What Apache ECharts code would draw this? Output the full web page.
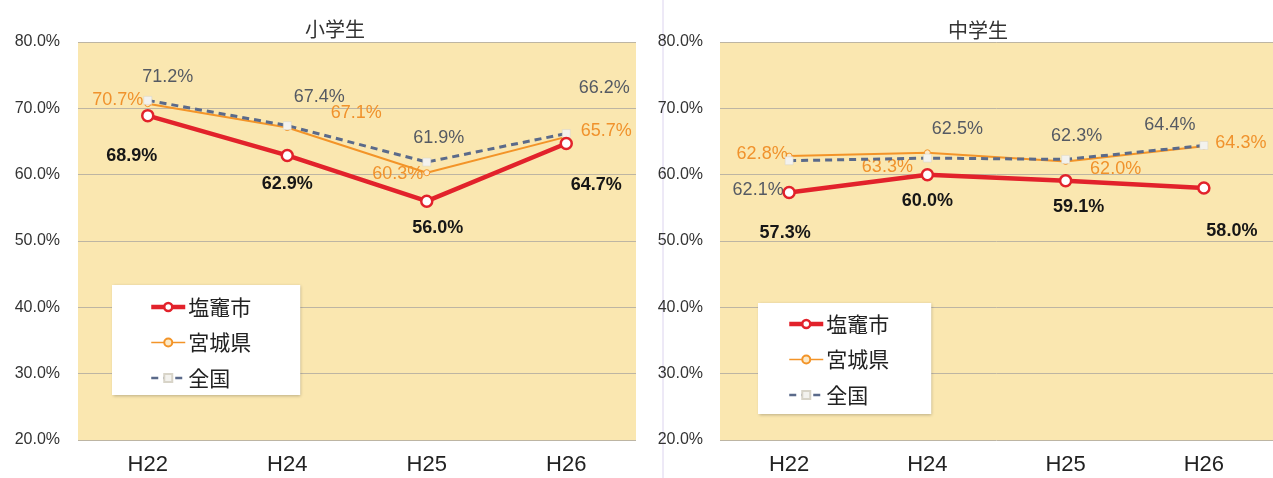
<!DOCTYPE html>
<html>
<head>
<meta charset="utf-8">
<script src="https://cdn.jsdelivr.net/npm/echarts@6/dist/echarts.min.js"></script>
<style>html,body{margin:0;padding:0;background:#fff;}#c{width:1273px;height:478px;}</style>
</head>
<body>
<div id="c"></div>
<script>
// ---- data ----
const categories = ['H22', 'H24', 'H25', 'H26'];
const seriesNames = ['塩竈市', '宮城県', '全国'];
const chartTitles = ['小学生', '中学生'];
const yTicks = [20, 30, 40, 50, 60, 70, 80];
// 小学生
const elemShiogama = [68.9, 62.9, 56.0, 64.7];
const elemMiyagi   = [70.7, 67.1, 60.3, 65.7];
const elemNational = [71.2, 67.4, 61.9, 66.2];
// 中学生
const juniorShiogama = [57.3, 60.0, 59.1, 58.0];
const juniorMiyagi   = [62.8, 63.3, 62.0, 64.3];
const juniorNational = [62.1, 62.5, 62.3, 64.4];

// ---- label placement (style, pixels relative to point) ----
const offElemShiogama = [[-16, 40], [0, 29], [11, 27], [30, 42]];
const offElemMiyagi   = [[-30, -4], [69, -15], [-29, 1], [40, -6]];
const offElemNational = [[20, -23], [32, -29], [12, -24], [38, -46]];
const offJunShiogama  = [[-4, 40], [0, 26], [13, 26], [28, 43]];
const offJunMiyagi    = [[-27, -2], [-40, 14], [50, 8], [37, -3]];
const offJunNational  = [[-31, 29], [30, -29], [11, -23], [-34, -20]];

const FONT = "'Liberation Sans', Arial, 'Noto Sans CJK JP', sans-serif";
const CJK = "'Noto Sans CJK JP', sans-serif";

const styles = {
  '塩竈市': {
    lineStyle: { color: '#e2222b', width: 4.5 },
    itemStyle: { color: '#ffffff', borderColor: '#e2222b', borderWidth: 2.5 },
    symbol: 'circle', symbolSize: 11, z: 5,
    label: { color: '#161616', fontWeight: 'bold', fontSize: 18 }
  },
  '宮城県': {
    lineStyle: { color: '#f39428', width: 2 },
    itemStyle: { color: '#fbe9c8', borderColor: '#f39428', borderWidth: 1 },
    symbol: 'circle', symbolSize: 6, z: 3,
    label: { color: '#f0922c', fontSize: 18 }
  },
  '全国': {
    lineStyle: { color: '#5a6a8a', width: 3, type: [7, 5] },
    itemStyle: { color: '#f3f2ee', borderColor: '#d8d4c8', borderWidth: 0.5 },
    symbol: 'rect', symbolSize: 8, z: 4,
    label: { color: '#555a63', fontSize: 18 }
  }
};

function mkSeries(name, values, offsets, idx) {
  const s = styles[name];
  return {
    type: 'line', name: name, xAxisIndex: idx, yAxisIndex: idx,
    z: s.z, symbol: s.symbol, symbolSize: s.symbolSize, showAllSymbol: true,
    lineStyle: s.lineStyle, itemStyle: s.itemStyle,
    emphasis: { disabled: true },
    label: Object.assign({ show: true, position: 'inside', fontFamily: FONT,
      formatter: p => p.value.toFixed(1) + '%' }, s.label),
    data: values.map((v, i) => ({ value: v, label: { offset: offsets[i] } }))
  };
}

const grids = [
  { left: 78, top: 42, width: 558, height: 398, show: true, backgroundColor: '#fae7b0', borderWidth: 0 },
  { left: 720, top: 42, width: 559, height: 398, show: true, backgroundColor: '#fae7b0', borderWidth: 0 }
];

function mkX(idx) {
  return { type: 'category', gridIndex: idx, data: categories, boundaryGap: true,
    axisLine: { show: false }, axisTick: { show: false },
    axisLabel: { fontSize: 22, color: '#222', fontFamily: FONT, margin: 14 } };
}
function mkY(idx) {
  return { type: 'value', gridIndex: idx, min: yTicks[0], max: yTicks[yTicks.length - 1], interval: 10,
    axisLine: { show: false }, axisTick: { show: false },
    splitLine: { lineStyle: { color: '#bdb5a3', width: 1 } },
    axisLabel: { fontSize: 16, color: '#333', fontFamily: FONT, margin: idx === 0 ? 18 : 17,
      formatter: v => v.toFixed(1) + '%' } };
}

function mkLegend(left, top, pad) {
  return {
    data: [
      { name: seriesNames[0], lineStyle: { width: 4.5 }, itemStyle: { borderWidth: 2.5 } },
      { name: seriesNames[1], lineStyle: { width: 1.5 } },
      { name: seriesNames[2], lineStyle: { width: 2.5 } }
    ],
    orient: 'vertical', left: left, top: top,
    backgroundColor: '#ffffff', padding: pad, itemGap: 13.5,
    itemWidth: 34, itemHeight: 10, selectedMode: false,
    shadowColor: 'rgba(0,0,0,0.25)', shadowBlur: 3, shadowOffsetX: 1, shadowOffsetY: 1,
    textStyle: { fontSize: 21, color: '#222', fontFamily: CJK, lineHeight: 22, padding: [0, 0, 0, -2] }
  };
}

const option = {
  animation: false,
  textStyle: { fontFamily: FONT },
  title: [
    { text: chartTitles[0], left: 330, top: 14, textAlign: 'center',
      textStyle: { fontSize: 20, fontWeight: 'normal', color: '#333', fontFamily: CJK } },
    { text: chartTitles[1], left: 973, top: 15, textAlign: 'center',
      textStyle: { fontSize: 20, fontWeight: 'normal', color: '#333', fontFamily: CJK } }
  ],
  graphic: [
    { type: 'line', shape: { x1: 663, y1: 0, x2: 663, y2: 478 }, style: { stroke: '#dcd3ee', lineWidth: 1 }, z: -1 }
  ],
  legend: [mkLegend(112, 285, [11, 49, 6, 37]), mkLegend(758, 303, [10, 42, 8, 29])],
  grid: grids,
  xAxis: [mkX(0), mkX(1)],
  yAxis: [mkY(0), mkY(1)],
  series: [
    mkSeries('宮城県', elemMiyagi, offElemMiyagi, 0),
    mkSeries('全国', elemNational, offElemNational, 0),
    mkSeries('塩竈市', elemShiogama, offElemShiogama, 0),
    mkSeries('宮城県', juniorMiyagi, offJunMiyagi, 1),
    mkSeries('全国', juniorNational, offJunNational, 1),
    mkSeries('塩竈市', juniorShiogama, offJunShiogama, 1)
  ]
};

const chart = echarts.init(document.getElementById('c'), null, { renderer: 'canvas' });
chart.setOption(option);
</script>
</body>
</html>
